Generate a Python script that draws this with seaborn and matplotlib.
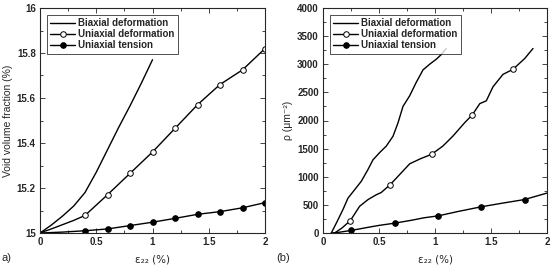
import matplotlib
matplotlib.use('Agg')
import matplotlib.pyplot as plt
import seaborn as sns
from matplotlib.ticker import MultipleLocator

# ---- panel (a): void volume fraction ----
a_bi_x = [0, 0.1, 0.2, 0.3, 0.4, 0.5, 0.6, 0.7, 0.8, 0.9, 1.0]
a_bi_y = [15.0, 15.035, 15.075, 15.12, 15.18, 15.27, 15.37, 15.47, 15.565, 15.665, 15.77]

a_ud_x = [0, 0.1, 0.2, 0.3, 0.4, 0.6, 0.8, 1.0, 1.2, 1.4, 1.6, 1.8, 2.0]
a_ud_y = [15.0, 15.018, 15.037, 15.056, 15.078, 15.17, 15.265, 15.36, 15.465, 15.57, 15.66, 15.725, 15.82]

a_ut_x = [0, 0.2, 0.4, 0.6, 0.8, 1.0, 1.2, 1.4, 1.6, 1.8, 2.0]
a_ut_y = [15.0, 15.004, 15.01, 15.018, 15.033, 15.048, 15.065, 15.083, 15.095, 15.112, 15.135]

# ---- panel (b): dislocation density ----
b_bi_x = [0.074, 0.12, 0.179, 0.223, 0.283, 0.342, 0.402, 0.446, 0.506, 0.565, 0.625,
          0.67, 0.714, 0.774, 0.833, 0.893, 0.952, 1.012, 1.06, 1.10]
b_bi_y = [0, 180, 420, 620, 770, 920, 1130, 1300, 1430, 1545, 1720,
          1960, 2250, 2440, 2680, 2900, 3000, 3090, 3180, 3280]

b_ud_x = [0.104, 0.17, 0.244, 0.327, 0.402, 0.476, 0.52, 0.6, 0.685, 0.774, 0.87, 0.97,
          1.07, 1.16, 1.265, 1.333, 1.4, 1.458, 1.518, 1.607, 1.696, 1.8, 1.875]
b_ud_y = [0, 90, 220, 475, 594, 680, 720, 860, 1040, 1230, 1320, 1400,
          1545, 1723, 1961, 2100, 2300, 2350, 2600, 2820, 2910, 3100, 3280]

b_ut_x = [0.074, 0.15, 0.25, 0.4, 0.5, 0.64, 0.8, 0.9, 1.03, 1.2, 1.41, 1.6, 1.8, 2.0]
b_ut_y = [0, 15, 45, 100, 135, 175, 230, 270, 305, 380, 465, 530, 595, 710]

legend_labels = ['Biaxial deformation', 'Uniaxial deformation', 'Uniaxial tension']
x_ticks = [0, 0.5, 1, 1.5, 2]
x_ticklabels = ['0', '0.5', '1', '1.5', '2']

sns.set_style('ticks')
plt.rcParams['font.family'] = ['Liberation Sans', 'DejaVu Sans']
plt.rcParams['font.weight'] = 'bold'

fig = plt.figure(figsize=(5.53, 2.68), dpi=100)
ax1 = fig.add_axes([40 / 553, 35 / 268, 225 / 553, 225 / 268])
ax2 = fig.add_axes([323 / 553, 35 / 268, 224 / 553, 225 / 268])


def draw(ax, bi, ud, ut, ud_marks, ut_marks):
    sns.lineplot(x=bi[0], y=bi[1], ax=ax, color='black', lw=1.0, sort=False,
                 estimator=None, label=legend_labels[0])
    sns.lineplot(x=ud[0], y=ud[1], ax=ax, color='black', lw=1.0, sort=False,
                 estimator=None, marker='o', ms=4, mfc='white', mec='black',
                 mew=0.7, markevery=ud_marks, label=legend_labels[1])
    sns.lineplot(x=ut[0], y=ut[1], ax=ax, color='black', lw=1.0, sort=False,
                 estimator=None, marker='o', ms=4, mfc='black', mec='black',
                 markevery=ut_marks, label=legend_labels[2])


draw(ax1, (a_bi_x, a_bi_y), (a_ud_x, a_ud_y), (a_ut_x, a_ut_y),
     list(range(4, 13)), list(range(2, 11)))
draw(ax2, (b_bi_x, b_bi_y), (b_ud_x, b_ud_y), (b_ut_x, b_ut_y),
     [2, 7, 11, 15, 20], [2, 5, 8, 10, 12])

ax1.set_xlim(0, 2)
ax1.set_ylim(15, 16)
ax1.set_xticks(x_ticks, x_ticklabels)
ax1.set_yticks([15, 15.2, 15.4, 15.6, 15.8, 16], ['15', '15.2', '15.4', '15.6', '15.8', '16'])
ax1.yaxis.set_minor_locator(MultipleLocator(0.1))
ax1.set_ylabel('Void volume fraction (%)', fontsize=7.5, labelpad=3, fontweight='normal')

ax2.set_xlim(0, 2)
ax2.set_ylim(0, 4000)
ax2.set_xticks(x_ticks, x_ticklabels)
ax2.set_yticks(range(0, 4001, 500))
ax2.yaxis.set_minor_locator(MultipleLocator(250))
ax2.set_ylabel('ρ (μm⁻²)', fontsize=7.5, labelpad=3, fontweight='normal')

for ax in (ax1, ax2):
    ax.xaxis.set_minor_locator(MultipleLocator(0.25))
    ax.set_xlabel('ε₂₂ (%)', fontsize=7.5, labelpad=5, fontweight='normal',
                  family=['DejaVu Sans'])
    ax.tick_params(which='both', direction='in', top=True, right=True, width=0.6,
                   labelsize=7)
    ax.tick_params(which='major', length=3.5, pad=3)
    ax.tick_params(which='minor', length=2, bottom=True, left=True)
    for sp in ax.spines.values():
        sp.set_linewidth(0.8)
    leg = ax.legend(loc='upper left', bbox_to_anchor=(0.03, 0.97),
                    prop={'weight': 'bold', 'size': 7}, frameon=True, fancybox=False,
                    handlelength=2.6, handletextpad=0.3, labelspacing=0.1,
                    borderpad=0.35, borderaxespad=0)
    leg.get_frame().set_edgecolor('black')
    leg.get_frame().set_linewidth(0.6)

fig.text(2 / 553, 1 - 258 / 268, 'a)', fontsize=8, va='center', ha='left', fontweight='normal')
fig.text(276 / 553, 1 - 258 / 268, '(b)', fontsize=8, va='center', ha='left', fontweight='normal')

fig.savefig('out.png', dpi=100)
